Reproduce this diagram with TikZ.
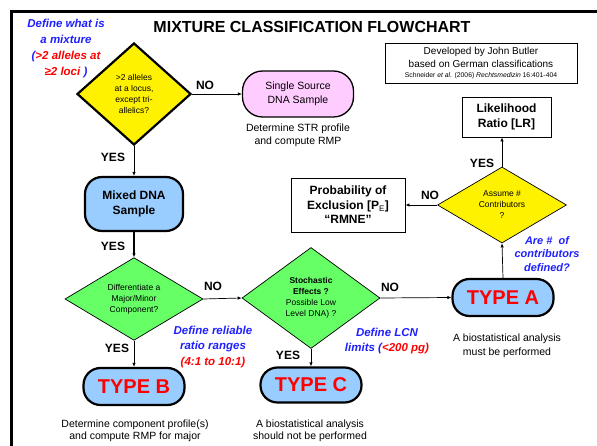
\documentclass[tikz,border=0pt]{standalone}
\usepackage{fontspec}
\setmainfont{Liberation Sans}
\usetikzlibrary{shapes.geometric,arrows.meta}
\definecolor{boxblue}{HTML}{99CCFF}
\definecolor{boxpink}{HTML}{FFCCFF}
\definecolor{boxgreen}{HTML}{66FF66}
\definecolor{notered}{HTML}{FF0000}
\definecolor{noteblue}{HTML}{1F1FFF}
\begin{document}
\begin{tikzpicture}[x=1pt, y=-1pt,
    decision/.style={diamond, draw, inner sep=0pt, align=center, font=\fontsize{8.5}{11}\selectfont},
    sample/.style={rectangle, draw, rounded corners=17pt, fill=boxblue, line width=2.2pt, align=center},
    typebox/.style={sample, minimum width=101pt, minimum height=37pt, text=notered, font=\bfseries\fontsize{20}{22}\selectfont},
    result/.style={rectangle, draw, line width=0.9pt, align=center, font=\bfseries\fontsize{12}{14.5}\selectfont},
    answer/.style={font=\bfseries\fontsize{12}{14}\selectfont},
    note/.style={align=center, text=noteblue, font=\bfseries\itshape\fontsize{11.5}{15.5}\selectfont},
    info/.style={align=center, font=\fontsize{10.5}{13.5}\selectfont},
    flow/.style={-{Latex[length=4pt,width=3.5pt]}, line width=0.7pt}]
    \clip (0,0) rectangle (597,446);
    \useasboundingbox (0,0) rectangle (597,446);
    \draw[line width=3pt] (11.5,11.5) rectangle (620,470);

    \node[font=\bfseries\fontsize{16}{19}\selectfont] (title) at (312,27) {MIXTURE CLASSIFICATION FLOWCHART};
    \node[note, font=\bfseries\itshape\fontsize{11.5}{16.3}\selectfont] (mixdef) at (66,48.5)
        {Define what is\\a mixture\\(\textcolor{notered}{>2 alleles at}\\\textcolor{notered}{≥2 loci} )};

    % first question
    \node[decision, fill=yellow, line width=2.2pt, minimum width=114pt, minimum height=102pt] (alleles) at (134,94)
        {>2 alleles\\at a locus,\\except tri-\\allelics?};
    \node[rectangle, draw, rounded corners=20pt, fill=boxpink, line width=1.3pt, minimum width=111pt, minimum height=46pt,
        align=center, font=\fontsize{10.5}{13.5}\selectfont] (single) at (298,94) {Single Source\\DNA Sample};
    \node[info] (singletxt) at (298,135.5) {Determine STR profile\\and compute RMP};

    \node[rectangle, draw, line width=0.9pt, minimum width=192pt, minimum height=40pt, align=center,
        font=\fontsize{10}{12.5}\selectfont] (credit) at (481,63)
        {Developed by John Butler\\based on German classifications\\[-2.5pt]
         {\fontsize{6.8}{8}\selectfont Schneider \textit{et al.} (2006) \textit{Rechtsmedizin} 16:401-404}};

    % mixed sample
    \node[sample, minimum width=98pt, minimum height=54pt, font=\bfseries\fontsize{12}{15}\selectfont] (mixed) at (134,204)
        {Mixed DNA\\Sample};
    \node[decision, fill=boxgreen, line width=0.7pt, minimum width=138pt, minimum height=76pt] (major) at (134,299)
        {Differentiate a\\Major/Minor\\Component?};
    \node[decision, fill=boxgreen, line width=0.7pt, minimum width=138pt, minimum height=101pt] (stoch) at (311,298)
        {\textbf{Stochastic}\\\textbf{Effects ?}\\Possible Low\\Level DNA) ?};

    % types
    \node[typebox] (typea) at (503,297.5) {TYPE A};
    \node[typebox] (typeb) at (134,386.5) {TYPE B};
    \node[typebox, minimum height=35pt] (typec) at (311,385) {TYPE C};
    \node[info] (typeatxt) at (507,346) {A biostatistical analysis\\must be performed};
    \node[info, font=\fontsize{10.5}{12.5}\selectfont] (typebtxt) at (135,431) {Determine component profile(s)\\and compute RMP for major};
    \node[info, font=\fontsize{10.5}{12.5}\selectfont] (typectxt) at (310,431) {A biostatistical analysis\\should not be performed};

    % contributors
    \node[decision, fill=yellow, line width=0.7pt, minimum width=129pt, minimum height=76pt] (assume) at (502,205)
        {Assume \#\\Contributors\\?};
    \node[result, minimum width=89pt, minimum height=40pt] (lr) at (506.5,117) {Likelihood\\Ratio [LR]};
    \node[result, minimum width=114pt, minimum height=54pt] (pe) at (348,205)
        {Probability of\\Exclusion [P$_{\mathrm{E}}$]\\“RMNE”};

    % notes
    \node[note, font=\bfseries\itshape\fontsize{11}{13.5}\selectfont] (contribnote) at (547,254) {Are \#~ of\\contributors\\defined?};
    \node[note] (rationote) at (213,347) {Define reliable\\ratio ranges\\\textcolor{notered}{(4:1 to 10:1)}};
    \node[note] (lcnnote) at (387,341) {Define LCN\\limits (\textcolor{notered}{<200 pg)}};

    % yes / no labels
    \node[answer] (no1) at (205,85) {NO};
    \node[answer] (yes1) at (113,157) {YES};
    \node[answer] (yes2) at (113,246) {YES};
    \node[answer] (no2) at (213,286) {NO};
    \node[answer] (yes3) at (117,348) {YES};
    \node[answer] (no3) at (390,287) {NO};
    \node[answer] (yes4) at (288,355) {YES};
    \node[answer] (yes5) at (482,163) {YES};
    \node[answer] (no4) at (430,195) {NO};

    % connectors
    \draw[flow] (alleles.east) -- (single.west);
    \draw[flow] (alleles.south) -- (mixed.north);
    \draw[flow, line width=1.4pt] (mixed.south) -- (major.north);
    \draw[flow] (major.east) -- (stoch.west);
    \draw[flow] (major.south) -- (typeb.north);
    \draw[flow] (stoch.east) -- (typea.west);
    \draw[flow] (stoch.south) -- (typec.north);
    \draw[flow] (typea.north) -- (assume.south);
    \draw[flow] (assume.north) -- (assume.north |- lr.south);
    \draw[flow] (assume.west) -- (pe.east);
\end{tikzpicture}
\end{document}
